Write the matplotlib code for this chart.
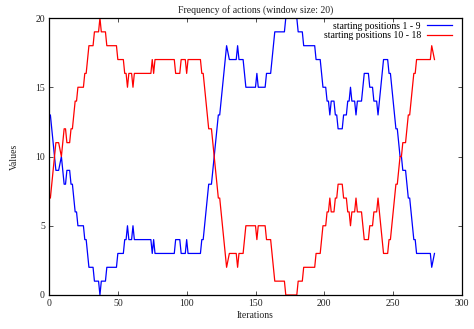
import matplotlib
matplotlib.use("Agg")
import matplotlib.pyplot as plt

# vertices of the step curves (iteration, value)
blue_x = [0, 1, 5, 7, 9, 11, 12, 13, 15, 16, 17, 18, 19, 20, 21, 25, 26, 27, 29, 32,
          33, 36, 37, 38, 41, 42, 49, 50, 54, 55, 56, 57, 58, 60, 61, 62, 74, 75, 76, 77,
          91, 92, 95, 96, 99, 100, 101, 110, 111, 112, 116, 118, 123, 124, 129, 131, 136, 137, 138, 141,
          143, 150, 151, 152, 157, 158, 161, 164, 171, 172, 180, 181, 184, 185, 193, 194, 197, 198, 199, 201,
          202, 203, 204, 205, 207, 208, 209, 210, 213, 214, 216, 217, 218, 219, 220, 221, 222, 223, 224, 227,
          228, 229, 232, 233, 235, 236, 238, 239, 243, 246, 247, 248, 250, 251, 252, 253, 254, 255, 256, 257,
          259, 260, 261, 262, 263, 264, 265, 266, 267, 277, 278, 280]
blue_y = [13, 13, 9, 9, 10, 8, 8, 9, 9, 8, 8, 7, 6, 6, 5, 5, 4, 4, 2, 2,
          1, 1, 0, 1, 1, 2, 2, 3, 3, 4, 4, 5, 4, 4, 5, 4, 4, 3, 4, 3,
          3, 4, 4, 3, 3, 4, 3, 3, 4, 4, 8, 8, 13, 13, 18, 17, 17, 18, 17, 17,
          15, 15, 16, 15, 15, 16, 16, 19, 19, 20, 20, 19, 19, 18, 18, 17, 17, 16, 15, 15,
          14, 14, 13, 14, 14, 13, 13, 12, 12, 13, 13, 14, 14, 15, 14, 14, 14, 13, 14, 14,
          15, 16, 16, 15, 15, 14, 14, 13, 17, 17, 16, 16, 14, 13, 12, 12, 11, 10, 10, 9,
          9, 8, 7, 7, 6, 5, 4, 4, 3, 3, 2, 3]

red_x = blue_x
red_y = [7, 7, 11, 11, 10, 12, 12, 11, 11, 12, 12, 13, 14, 14, 15, 15, 16, 16, 18, 18,
         19, 19, 20, 19, 19, 18, 18, 17, 17, 16, 16, 15, 16, 16, 15, 16, 16, 17, 16, 17,
         17, 16, 16, 17, 17, 16, 17, 17, 16, 16, 12, 12, 7, 7, 2, 3, 3, 2, 3, 3,
         5, 5, 4, 5, 5, 4, 4, 1, 1, 0, 0, 1, 1, 2, 2, 3, 3, 4, 5, 5,
         6, 6, 7, 6, 6, 7, 7, 8, 8, 7, 7, 6, 6, 5, 6, 6, 6, 7, 6, 6,
         5, 4, 4, 5, 5, 6, 6, 7, 3, 3, 4, 4, 6, 7, 8, 8, 9, 10, 10, 11,
         11, 12, 13, 13, 14, 15, 16, 16, 17, 17, 18, 17]

x_ticks = [0, 50, 100, 150, 200, 250, 300]
y_ticks = [0, 5, 10, 15, 20]

plt.rcParams["font.family"] = ["Liberation Serif", "DejaVu Serif"]

fig = plt.figure(figsize=(4.74, 3.29), dpi=100)
ax = fig.add_axes([49 / 474, 1 - 295 / 329, 413 / 474, 277 / 329])

ax.plot(blue_x, blue_y, color="#0000ff", lw=0.9, label="starting positions 1 - 9")
ax.plot(red_x, red_y, color="#ff0000", lw=0.9, label="starting positions 10 - 18")

ax.set_xlim(0, 300)
ax.set_ylim(0, 20)
ax.set_xticks(x_ticks)
ax.set_yticks(y_ticks)
ax.tick_params(direction="in", top=True, right=True, length=3, width=0.6,
               labelsize=7, pad=3, color="#333333", labelcolor="#222222")
for s in ax.spines.values():
    s.set_linewidth(0.9)

ax.set_xlabel("Iterations", fontsize=7, labelpad=2, color="#222222")
ax.set_ylabel("Values", fontsize=7, labelpad=12, color="#222222")
ax.set_title("Frequency of actions (window size: 20)", fontsize=7, pad=4, color="#222222")

leg = ax.legend(loc="upper right", bbox_to_anchor=(0.985, 1.0), frameon=False,
                fontsize=7, markerfirst=False, handlelength=2.6, handletextpad=0.6,
                labelspacing=0.05, borderaxespad=0.0)

fig.savefig("out.png", dpi=100)
